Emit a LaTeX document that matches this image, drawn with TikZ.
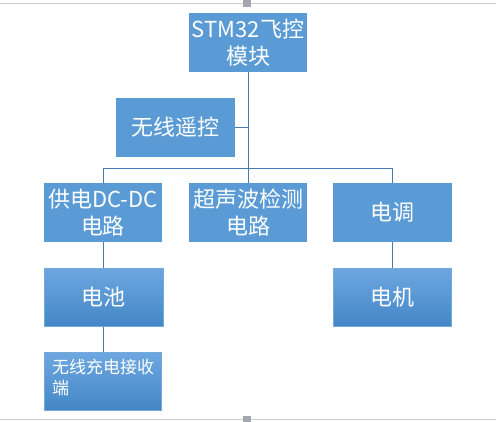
\documentclass[tikz,border=0pt]{standalone}
\usepackage{fontspec}
\setmainfont{Noto Sans CJK SC}
\definecolor{boxblue}{HTML}{5B9BD5}
\definecolor{gradtop}{HTML}{6DA7E0}
\definecolor{gradbot}{HTML}{4386C6}
\definecolor{linkc}{HTML}{4A7AAE}
\definecolor{frame}{HTML}{CCCCCC}
\definecolor{handle}{HTML}{A6A6AE}
\begin{document}
\begin{tikzpicture}[x=1pt,y=-1pt,
  flatbox/.style={fill=boxblue,draw=none,minimum width=118pt,minimum height=59pt,inner sep=0pt,
    text=white,align=center,font=\fontsize{22}{26.5}\selectfont},
  gradbox/.style={top color=gradtop,bottom color=gradbot,draw=boxblue!85!white,line width=1pt,
    minimum width=118pt,minimum height=58pt,inner sep=0pt,text=white,align=center,
    font=\fontsize{22}{26.5}\selectfont},
  link/.style={draw=linkc,line width=1pt}]
\useasboundingbox (0,0) rectangle (496,422);
% frame lines and handles
\draw[frame,line width=1pt] (0,4) -- (496,4);
\draw[frame,line width=1pt] (0,420) -- (496,420);
\fill[handle] (243,0) rectangle (251,7);
\fill[handle] (243,416) rectangle (251,422);
% nodes
\node[flatbox] (top) at (248,42.5) {STM32飞控\\模块};
\node[flatbox,minimum width=119pt] (wx) at (175.5,127.5) {无线遥控};
\node[flatbox] (pw) at (103,212.5) {供电DC-DC\\电路};
\node[flatbox] (us) at (248,212.5) {超声波检测\\电路};
\node[flatbox,minimum width=119pt] (esc) at (392.5,212.5) {电调};
\node[gradbox,minimum width=119pt] (bat) at (103.5,297.5) {电池};
\node[gradbox,minimum width=118pt] (mot) at (392.5,297.5) {电机};
\node[gradbox,minimum width=117pt] (wc) at (103,382) {};
\node[anchor=north west,inner sep=0pt,text=white,align=left,
  font=\fontsize{17}{21}\selectfont] (wct) at (52,359) {无线充电接收\\端};
% connectors
\coordinate (jL) at (103,169);
\coordinate (jM) at (248,169);
\coordinate (jR) at (392.5,169);
\draw[link] (top.south) -- (jM);
\draw[link] (jL) -- (jR);
\draw[link] (jL) -- (pw.north);
\draw[link] (jM) -- (us.north);
\draw[link] (jR) -- (esc.north);
\draw[link] (wx.east) -- (wx.east -| top.south);
\draw[link] (pw.south) -- (pw.south |- bat.north);
\draw[link] (pw.south |- bat.south) -- (pw.south |- wc.north);
\draw[link] (esc.south) -- (mot.north);
\end{tikzpicture}
\end{document}
